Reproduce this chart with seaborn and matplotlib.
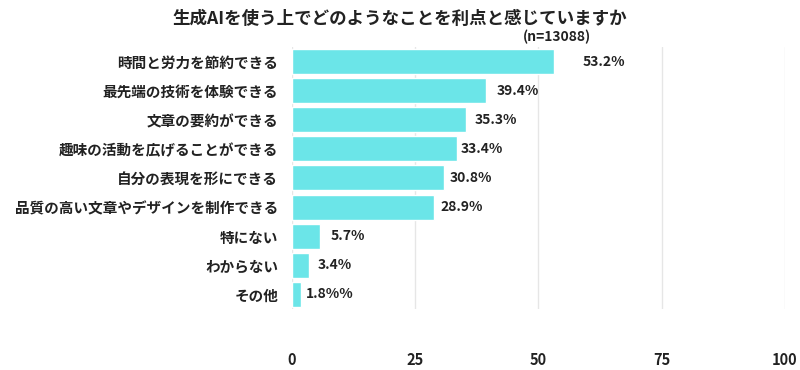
import matplotlib
matplotlib.use("Agg")
import matplotlib.pyplot as plt
import seaborn as sns
import pandas as pd

categories = [
    "時間と労力を節約できる",
    "最先端の技術を体験できる",
    "文章の要約ができる",
    "趣味の活動を広げることができる",
    "自分の表現を形にできる",
    "品質の高い文章やデザインを制作できる",
    "特にない",
    "わからない",
    "その他",
]
values = [53.2, 39.4, 35.3, 33.4, 30.8, 28.9, 5.7, 3.4, 1.8]
value_labels = ["53.2%", "39.4%", "35.3%", "33.4%", "30.8%", "28.9%", "5.7%", "3.4%", "1.8%%"]
x_ticks = [0, 25, 50, 75, 100]
title = "生成AIを使う上でどのようなことを利点と感じていますか"
note = "(n=13088)"

label_pads = [28, 11, 9, 4, 6, 6, 10, 9, 5]

sns.set_theme(style="white")
plt.rcParams["font.family"] = ["Noto Sans CJK JP", "DejaVu Sans"]

df = pd.DataFrame({"cat": categories, "val": values})

fig = plt.figure(figsize=(8, 3.7), dpi=100)
ax = fig.add_axes([0.365, 0.165, 0.616, 0.708])

sns.barplot(data=df, y="cat", x="val", color="#6BE5E8", saturation=1,
            width=0.86, ax=ax, orient="h")

ax.set_xlim(0, 100)
ax.set_xticks(x_ticks)
ax.set_xticklabels([str(t) for t in x_ticks], fontsize=10.5, fontweight="bold", color="#222222")
ax.tick_params(axis="x", length=0, pad=31)
ax.tick_params(axis="y", length=0, pad=10)
for lbl in ax.get_yticklabels():
    lbl.set_fontsize(10.5)
    lbl.set_fontweight("bold")
    lbl.set_color("#222222")
ax.set_xlabel("")
ax.set_ylabel("")
ax.grid(axis="x", color="#E6E6E6", linewidth=1)
ax.set_axisbelow(True)
for s in ax.spines.values():
    s.set_visible(False)

for i, (v, t) in enumerate(zip(values, value_labels)):
    ax.annotate(t, xy=(v, i), xytext=(label_pads[i] * 0.72, 0), textcoords="offset points",
                ha="left", va="center", fontsize=10, fontweight="bold", color="#222222")

fig.text(0.5, 0.948, title, ha="center", va="center", fontsize=12.6, fontweight="bold", color="#222222")
fig.text(0.653, 0.9, note, ha="left", va="center", fontsize=10, fontweight="bold", color="#222222")

fig.savefig("out.png", dpi=100, facecolor="white")
